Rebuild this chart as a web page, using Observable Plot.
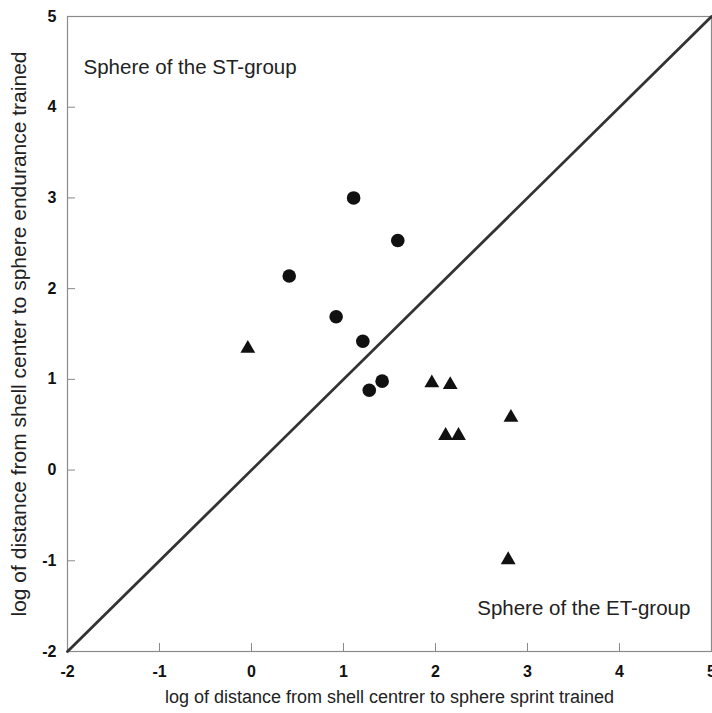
<!DOCTYPE html>
<html><head><meta charset="utf-8">
<script src="https://cdn.jsdelivr.net/npm/d3@7"></script>
<script src="https://cdn.jsdelivr.net/npm/@observablehq/plot@0.6"></script>
<style>
body{margin:0;background:#fff;}
svg{overflow:visible;}
</style></head>
<body><div id="chart"></div>
<script>
const stX = [1.11, 1.59, 0.41, 0.92, 1.21, 1.42, 1.28];
const stY = [3.00, 2.53, 2.14, 1.69, 1.42, 0.98, 0.88];
const etX = [-0.04, 1.96, 2.16, 2.11, 2.25, 2.82, 2.79];
const etY = [1.34, 0.96, 0.94, 0.38, 0.38, 0.58, -0.99];
const ticks = [-2, -1, 0, 1, 2, 3, 4, 5];
const diagonal = [-2, 5];
const stLabel = {x: -1.826, y: 4.44, text: "Sphere of the ST-group"};
const etLabel = {x: 4.77, y: -1.53, text: "Sphere of the ET-group"};
const xLabel = "log of distance from shell centrer to sphere sprint trained";
const yLabel = "log of distance from shell center to sphere endurance trained";

const st = stX.map((x, i) => ({x, y: stY[i]}));
const et = etX.map((x, i) => ({x, y: etY[i]}));

const tickFont = "'Liberation Sans Narrow','Liberation Sans',Arial,sans-serif";
const chart = Plot.plot({
  width: 712, height: 713,
  marginLeft: 67, marginRight: 1, marginTop: 16, marginBottom: 62,
  style: {fontFamily: "'Liberation Sans',Arial,sans-serif", background: "#fff"},
  x: {domain: [-2, 5]},
  y: {domain: [-2, 5]},
  marks: [
    Plot.frame({stroke: "#8a8a8a", strokeWidth: 1.2}),
    Plot.axisX({ticks, tickSize: -8, tickPadding: 22, stroke: "#8a8a8a", fontSize: 16, fontWeight: "bold", fontFamily: tickFont, fill: "#111", tickFormat: d => String(d), label: null}),
    Plot.axisY({ticks, tickSize: -8, tickPadding: 19, stroke: "#8a8a8a", fontSize: 16, fontWeight: "bold", fontFamily: tickFont, fill: "#111", tickFormat: d => String(d), label: null}),
    Plot.line(diagonal, {x: d => d, y: d => d, stroke: "#333", strokeWidth: 2.8}),
    Plot.dot(st, {x: "x", y: "y", r: 6.8, fill: "#111", symbol: "circle"}),
    Plot.dot(et, {x: "x", y: "y", r: 5.5, fill: "#111", symbol: "triangle"}),
    Plot.text([stLabel], {x: "x", y: "y", text: "text", textAnchor: "start", fontSize: 20.5, fill: "#222"}),
    Plot.text([etLabel], {x: "x", y: "y", text: "text", textAnchor: "end", fontSize: 20.5, fill: "#222"}),
    Plot.text([xLabel], {frameAnchor: "bottom", dy: 51, fontSize: 18, fill: "#222", text: d => d}),
    Plot.text([yLabel], {frameAnchor: "left", textAnchor: "middle", dx: -48, rotate: -90, fontSize: 21, fill: "#222", text: d => d})
  ]
});
document.getElementById("chart").appendChild(chart);
</script>
</body></html>
